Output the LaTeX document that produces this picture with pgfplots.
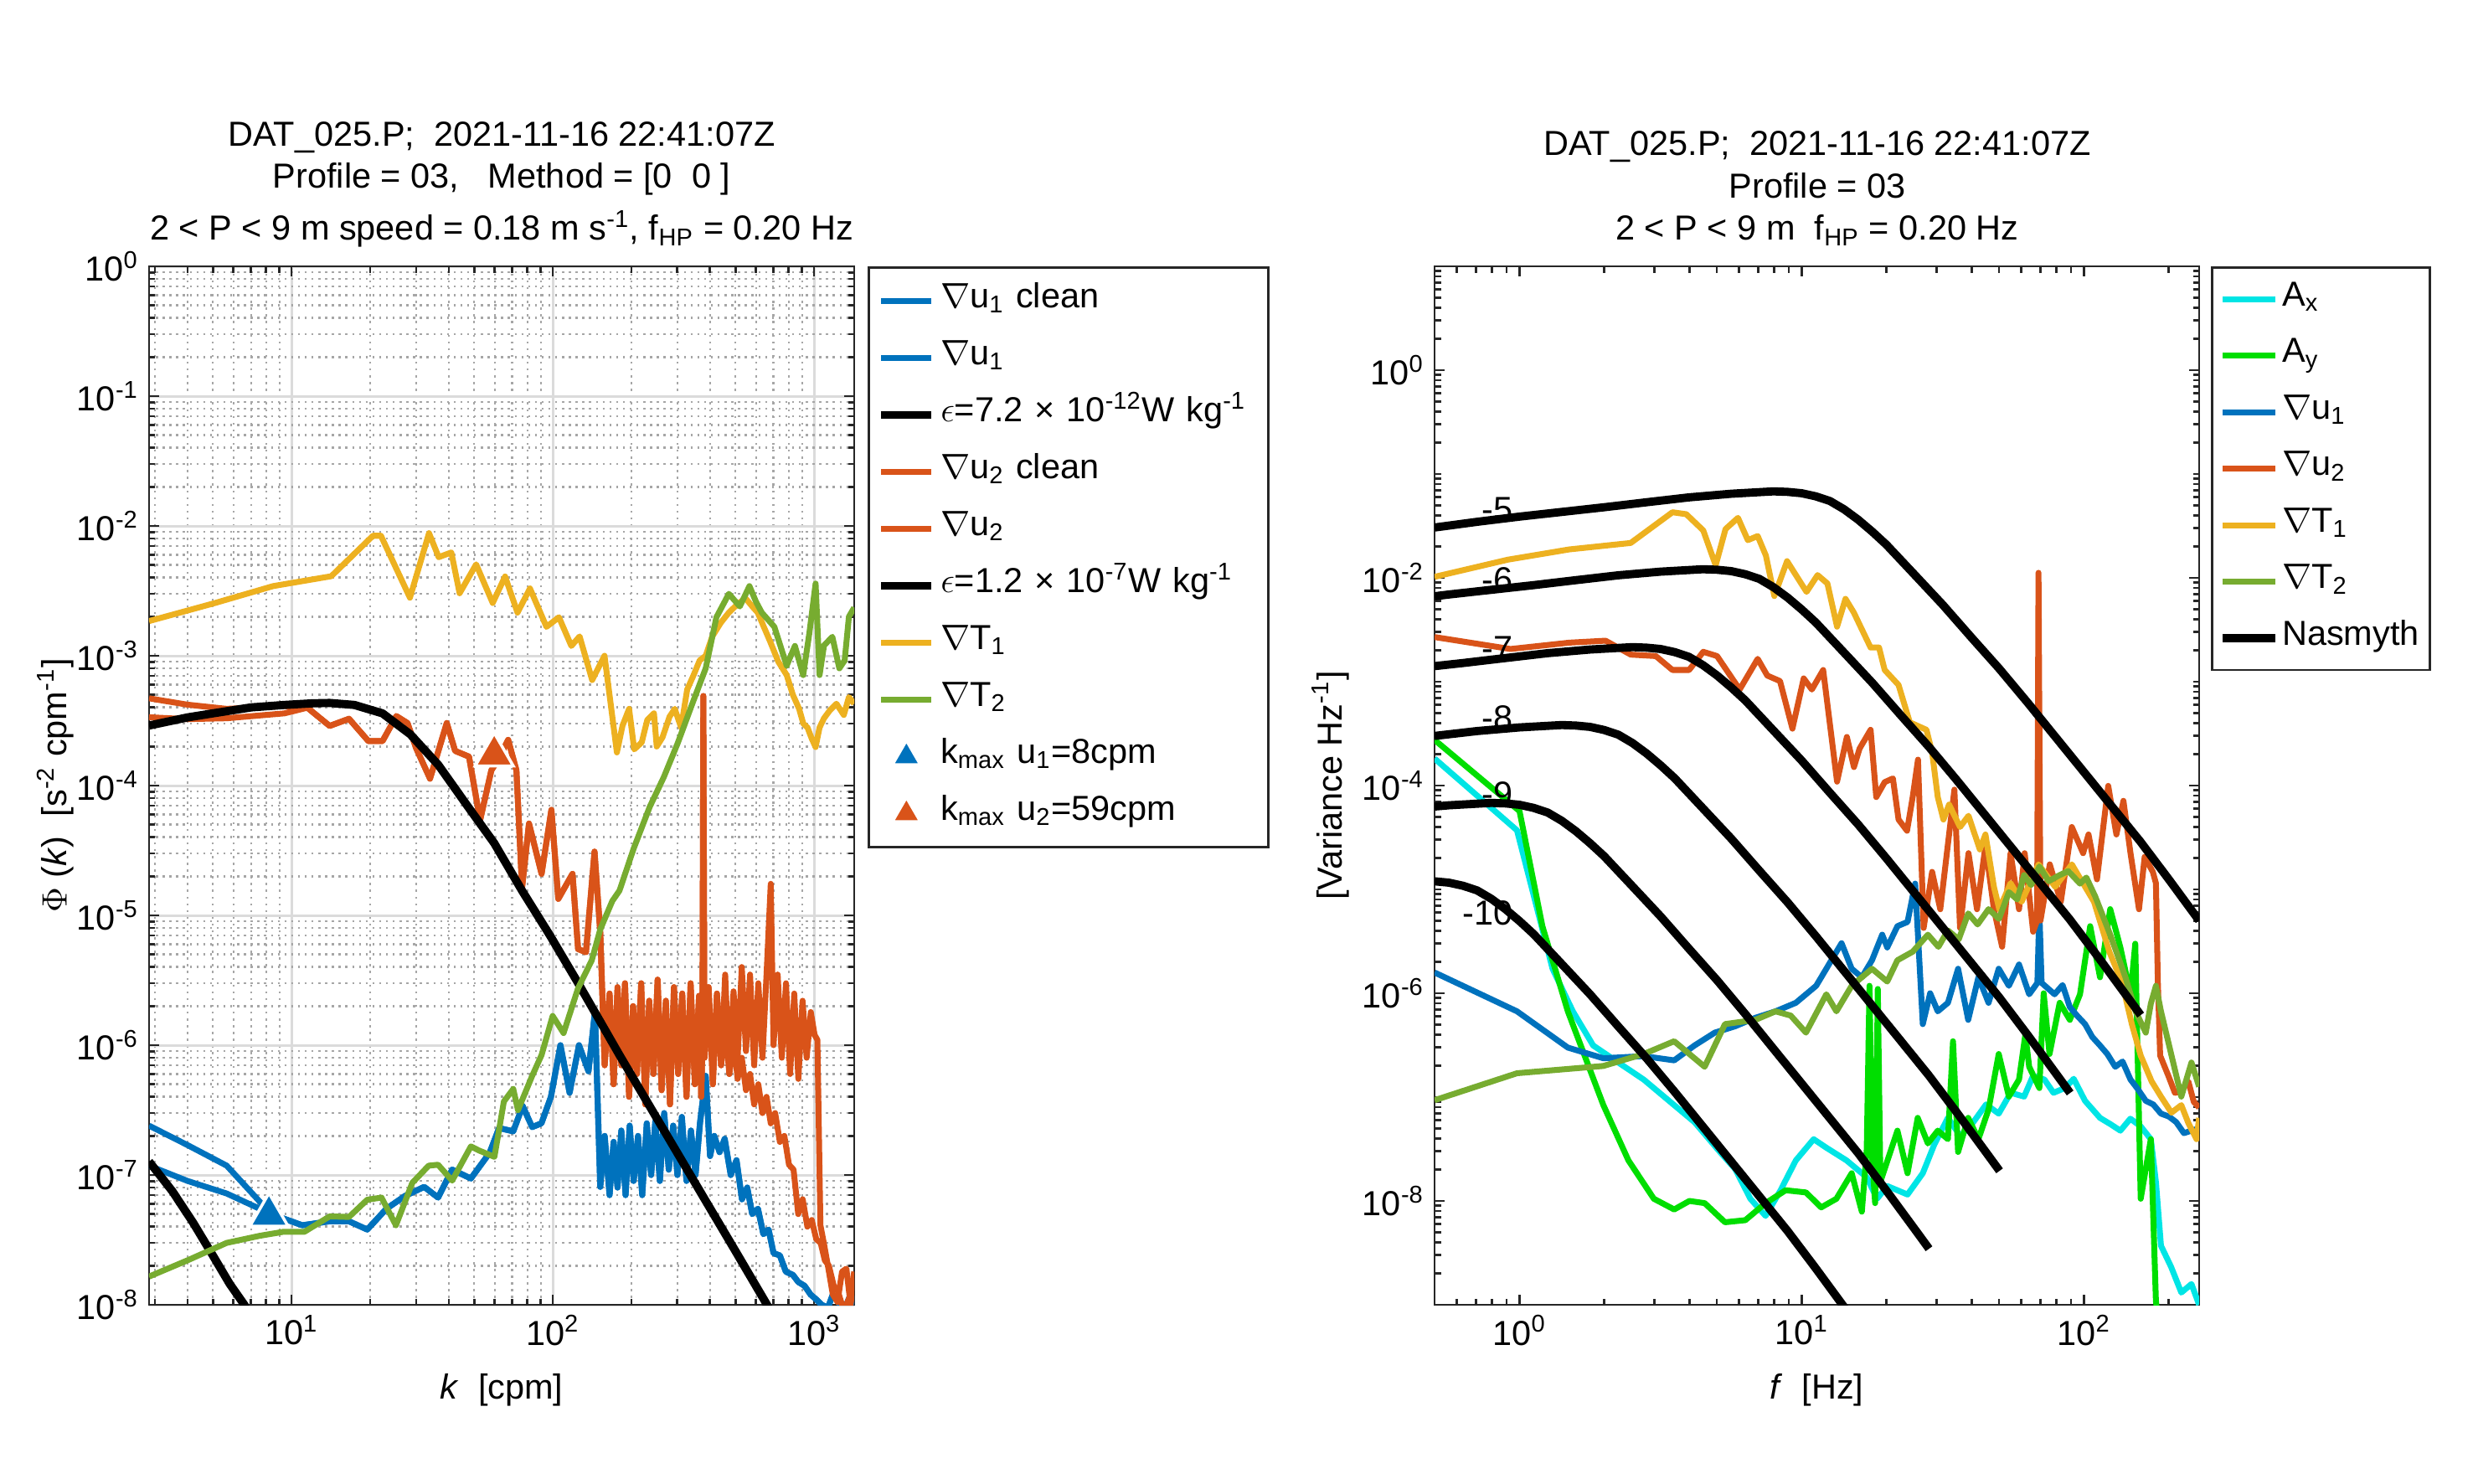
\documentclass[border=0pt]{standalone}
\usepackage{fontspec}
\setmainfont{Liberation Sans}
\usepackage{pgfplots}
\pgfplotsset{compat=1.18}
\definecolor{mblue}{rgb}{0,0.447,0.741}
\definecolor{morange}{rgb}{0.85,0.325,0.098}
\definecolor{myellow}{rgb}{0.929,0.694,0.125}
\definecolor{mgreen}{rgb}{0.466,0.674,0.188}
\definecolor{mcyan}{rgb}{0,0.9,0.9}
\definecolor{mlime}{rgb}{0,0.87,0}
\definecolor{axc}{rgb}{0.15,0.15,0.15}
\newcommand{\fs}{\fontsize{11.8}{14}\selectfont}
\newcommand{\sps}[1]{\textsuperscript{#1}}
\newcommand{\sbs}[1]{\textsubscript{#1}}
\tikzset{dline/.style={line width=2pt, line join=round}, nline/.style={line width=2.8pt, black, line join=round}}
\begin{document}
\begin{tikzpicture}
\path[use as bounding box] (0,0) rectangle (29.53,17.71);

% ---------------- LEFT ----------------
\begin{axis}[
  scale only axis, xmode=log, ymode=log,
  tick align=inside,
  major tick length=0.12cm, minor tick length=0.075cm,
  tick style={axc, line width=0.8pt},
  axis line style={axc, line width=0.8pt},
  tick label style={font=\fs},
  label style={font=\fs},
  legend cell align=left,
  at={(1.78cm,2.13cm)}, anchor=south west,
  width=8.42cm, height=12.40cm,
  xmin=2.85, xmax=1425, ymin=1e-8, ymax=1,
  xtick={10,100,1000},
  xticklabels={10\sps{1},10\sps{2},10\sps{3}},
  minor xtick={3,4,5,6,7,8,9,20,30,40,50,60,70,80,90,200,300,400,500,600,700,800,900},
  ytick={1e-8,1e-7,1e-6,1e-5,1e-4,1e-3,1e-2,1e-1,1},
  yticklabels={10\sps{-8},10\sps{-7},10\sps{-6},10\sps{-5},10\sps{-4},10\sps{-3},10\sps{-2},10\sps{-1},10\sps{0}},
  minor ytick={2e-8,3e-8,4e-8,5e-8,6e-8,7e-8,8e-8,9e-8,
    2e-7,3e-7,4e-7,5e-7,6e-7,7e-7,8e-7,9e-7,
    2e-6,3e-6,4e-6,5e-6,6e-6,7e-6,8e-6,9e-6,
    2e-5,3e-5,4e-5,5e-5,6e-5,7e-5,8e-5,9e-5,
    2e-4,3e-4,4e-4,5e-4,6e-4,7e-4,8e-4,9e-4,
    2e-3,3e-3,4e-3,5e-3,6e-3,7e-3,8e-3,9e-3,
    2e-2,3e-2,4e-2,5e-2,6e-2,7e-2,8e-2,9e-2,
    0.2,0.3,0.4,0.5,0.6,0.7,0.8,0.9},
  grid=both,
  major grid style={black!14, line width=0.85pt},
  minor grid style={black!35, line width=0.7pt, dash pattern=on 0.7pt off 1.6pt},
  xlabel={\textit{k}\ \ [cpm]},
  ylabel={$\Phi$ (\textit{k})\ \ [s\sps{-2} cpm\sps{-1}]},
  xlabel style={at={(axis description cs:0.5,0)}, anchor=base, yshift=-1.12cm},
  ylabel style={at={(axis description cs:-0.133,0.5)}, anchor=center},
  legend style={at={(axis description cs:1.019,1)}, anchor=north west,
    draw=axc, line width=0.8pt, fill=white,
    inner xsep=0.1cm, inner ysep=0.06cm, row sep=0pt, column sep=0.06cm,
    font=\fs,
    nodes={inner sep=0pt, text height=0.42cm, text depth=0.26cm, text width=3.81cm, align=left}},
  legend image code/.code={\path (0cm,0cm) (0.6cm,0cm); \draw[mark repeat=2,mark phase=2,#1] plot coordinates {(0cm,0cm) (0.3cm,0cm) (0.6cm,0cm)};},
]
% grad u1 clean
\addplot[dline, mblue] coordinates {
(2.85,1.18e-7) (4,9e-8) (5.65,7.2e-8) (8.36,5e-8)
(11,4.1e-8) (14,4.4e-8) (16.6,4.4e-8) (19.5,3.8e-8) (23.1,5.5e-8) (27.2,6.9e-8) (32.2,8.1e-8) (36.4,6.7e-8)
(41.2,1.1e-7) (48.6,9.4e-8) (57.3,1.48e-7) (62.3,2.3e-7) (70.6,2.17e-7) (76.7,3.4e-7) (83.4,2.34e-7)
(90.5,2.5e-7) (98.4,4e-7) (107,1e-6) (116,4.3e-7) (126,1e-6) (137,6.3e-7) (145,1.8e-6)
(152,8.1e-8) (158,2e-7) (165,7e-8) (171,1.8e-7) (177,8e-8) (183,2.2e-7) (190,7e-8) (197,2.4e-7)
(204,9e-8) (212,2e-7) (220,7e-8) (229,2.5e-7) (238,1e-7) (247,2.6e-7) (257,9e-8) (267,3e-7)
(278,1.1e-7) (289,2.4e-7) (300,1e-7) (312,2.8e-7) (325,9e-8) (338,2.2e-7) (352,1e-7) (366,2.5e-7)
(385,5.8e-7) (400,1.4e-7) (415,2e-7) (435,1.5e-7) (455,1.9e-7) (480,1e-7) (505,1.3e-7) (530,6.5e-8)
(555,8e-8) (580,5e-8) (610,5.5e-8) (640,3.5e-8) (670,3.8e-8) (700,2.5e-8) (740,2.4e-8) (780,1.8e-8)
(830,1.7e-8) (870,1.5e-8) (920,1.4e-8) (970,1.2e-8) (1020,1.1e-8) (1070,1e-8) (1130,9.5e-9)
(1180,1.2e-8) (1230,1.1e-8) (1280,9e-9) (1330,1e-8) (1380,1.2e-8) (1425,1e-8)
};
\addlegendentry{$\nabla$u\sbs{1} clean}
% grad u1
\addplot[dline, mblue] coordinates {
(2.85,2.4e-7) (4,1.7e-7) (5.65,1.18e-7) (8.36,5e-8)
(11,4.1e-8) (14,4.4e-8) (16.6,4.4e-8) (19.5,3.8e-8) (23.1,5.5e-8) (27.2,6.9e-8) (32.2,8.1e-8) (36.4,6.7e-8)
(41.2,1.1e-7) (48.6,9.4e-8) (57.3,1.48e-7) (62.3,2.3e-7) (70.6,2.17e-7) (76.7,3.4e-7) (83.4,2.34e-7)
(90.5,2.5e-7) (98.4,4e-7) (107,1e-6) (116,4.3e-7) (126,1e-6) (137,6.3e-7) (145,1.8e-6)
(152,8.1e-8) (158,2e-7) (165,7e-8) (171,1.8e-7) (177,8e-8) (183,2.2e-7) (190,7e-8) (197,2.4e-7)
(204,9e-8) (212,2e-7) (220,7e-8) (229,2.5e-7) (238,1e-7) (247,2.6e-7) (257,9e-8) (267,3e-7)
(278,1.1e-7) (289,2.4e-7) (300,1e-7) (312,2.8e-7) (325,9e-8) (338,2.2e-7) (352,1e-7) (366,2.5e-7)
(385,5.8e-7) (400,1.4e-7) (415,2e-7) (435,1.5e-7) (455,1.9e-7) (480,1e-7) (505,1.3e-7) (530,6.5e-8)
(555,8e-8) (580,5e-8) (610,5.5e-8) (640,3.5e-8) (670,3.8e-8) (700,2.5e-8) (740,2.4e-8) (780,1.8e-8)
(830,1.7e-8) (870,1.5e-8) (920,1.4e-8) (970,1.2e-8) (1020,1.1e-8) (1070,1e-8) (1130,9.5e-9)
(1180,1.2e-8) (1230,1.1e-8) (1280,9e-9) (1330,1e-8) (1380,1.2e-8) (1425,1e-8)
};
\addlegendentry{$\nabla$u\sbs{1}}
% Nasmyth 7.2e-12
\addplot[nline] coordinates {
(2.85,1.27e-7) (3.5,7.5e-8) (4.2,4.3e-8) (5,2.4e-8) (5.8,1.45e-8) (6.6,1e-8) (7,8e-9)
};
\addlegendentry{$\epsilon$=7.2 × 10\sps{-12}W kg\sps{-1}}
% grad u2 clean
\addplot[dline, morange] coordinates {
(2.85,3.36e-4) (4,3.25e-4) (5.65,3.3e-4) (9.4,3.6e-4) (11.5,3.98e-4) (14,2.88e-4) (16.6,3.27e-4)
(19.7,2.2e-4) (22.3,2.2e-4) (25.2,3.43e-4) (27.8,3.03e-4) (30,1.94e-4) (33.9,1.13e-4) (39.3,3.03e-4)
(42.3,1.85e-4) (47.8,1.67e-4) (52.7,5.4e-5) (58.2,1.31e-4) (62,1.6e-4) (67.5,2.25e-4) (72.6,1.31e-4)
(76.3,1.63e-5) (81.1,5.1e-5) (90.6,2.09e-5) (98.8,6.5e-5) (105,1.34e-5) (119,2.09e-5) (125,5.5e-6)
(134,5.2e-6) (144.5,3.1e-5) (152,7.4e-6) (158,7e-7)
(165,2.5e-6) (171,5e-7) (177,2.8e-6) (183,7e-7) (189,3e-6) (196,4e-7) (203,2e-6) (210,6e-7)
(218,3e-6) (226,3.5e-7) (234,2.2e-6) (243,6e-7) (252,3.2e-6) (261,4.5e-7) (271,2.2e-6) (281,3.5e-7)
(291,2.8e-6) (302,6e-7) (313,2.5e-6) (325,4e-7) (337,3e-6) (350,5e-7) (363,2.4e-6) (370,4e-7)
(374,1e-6) (377,4.9e-4) (381,8e-7) (395,2.8e-6) (410,5e-7) (425,2.5e-6) (441,7e-7)
(457,1.4e-6) (474,6e-7) (492,1.1e-6) (510,5.5e-7) (529,8e-7) (549,4.5e-7) (569,6e-7) (590,3.5e-7)
(612,5e-7) (635,3e-7) (658,4e-7) (683,2.5e-7) (710,3e-7) (740,1.8e-7) (770,2e-7) (802,1.2e-7)
(835,1.1e-7) (870,5e-8) (905,6.5e-8) (943,4e-8) (980,4.5e-8) (1020,3.2e-8) (1060,3e-8) (1100,2.2e-8)
(1140,2e-8) (1190,1.4e-8) (1230,1.3e-8) (1280,1e-8) (1330,1e-8) (1380,1.2e-8) (1425,1.8e-8)
};
\addlegendentry{$\nabla$u\sbs{2} clean}
% grad u2
\addplot[dline, morange] coordinates {
(2.85,4.7e-4) (4,4.2e-4) (5.65,3.9e-4) (9.4,4.1e-4) (11.5,3.98e-4) (14,2.88e-4) (16.6,3.27e-4)
(19.7,2.2e-4) (22.3,2.2e-4) (25.2,3.43e-4) (27.8,3.03e-4) (30,1.94e-4) (33.9,1.13e-4) (39.3,3.03e-4)
(42.3,1.85e-4) (47.8,1.67e-4) (52.7,5.4e-5) (58.2,1.31e-4) (62,1.6e-4) (67.5,2.25e-4) (72.6,1.31e-4)
(76.3,1.63e-5) (81.1,5.1e-5) (90.6,2.09e-5) (98.8,6.5e-5) (105,1.34e-5) (119,2.09e-5) (125,5.5e-6)
(134,5.2e-6) (144.5,3.1e-5) (152,7.4e-6) (158,7e-7)
(165,2.5e-6) (171,5e-7) (177,2.8e-6) (183,7e-7) (189,3e-6) (196,4e-7) (203,2e-6) (210,6e-7)
(218,3e-6) (226,3.5e-7) (234,2.2e-6) (243,6e-7) (252,3.2e-6) (261,4.5e-7) (271,2.2e-6) (281,3.5e-7)
(291,2.8e-6) (302,6e-7) (313,2.5e-6) (325,4e-7) (337,3e-6) (350,5e-7) (363,2.4e-6) (370,4e-7)
(374,1e-6) (377,4.9e-4) (381,8e-7) (395,2.8e-6) (410,5e-7) (425,2.5e-6) (441,7e-7)
(457,3.5e-6) (474,6e-7) (492,2.6e-6) (510,8e-7) (529,4e-6) (549,9e-7) (569,3.5e-6) (590,7e-7)
(612,3e-6) (635,8e-7) (658,3.5e-6) (683,1.75e-5) (700,1e-6) (726,3.5e-6) (753,8e-7) (781,3e-6)
(810,6e-7) (840,2.5e-6) (871,5.5e-7) (904,2.2e-6) (937,8e-7) (972,1.8e-6) (1005,1.2e-6) (1030,1.1e-6)
(1058,4.1e-8) (1090,3e-8) (1135,1.9e-8) (1180,1.2e-8) (1230,1.05e-8) (1280,1.8e-8) (1330,1.9e-8)
(1380,1e-8) (1425,1.6e-8)
};
\addlegendentry{$\nabla$u\sbs{2}}
% Nasmyth 1.2e-7
\addplot[nline] coordinates {
(2.85,2.9e-4) (4,3.35e-4) (5,3.6e-4) (7,4e-4) (9.4,4.18e-4) (12,4.3e-4) (14,4.33e-4) (17.4,4.18e-4)
(22.3,3.6e-4) (28.5,2.48e-4) (36.5,1.44e-4) (46.6,7.2e-5) (59.7,3.6e-5) (76.3,1.55e-5) (97.6,7.0e-6)
(124.8,3.03e-6) (180,8.4e-7) (260,2.4e-7) (380,6.6e-8) (500,2.6e-8) (661,1e-8) (700,8e-9)
};
\addlegendentry{$\epsilon$=1.2 × 10\sps{-7}W kg\sps{-1}}
% grad T1
\addplot[dline, myellow] coordinates {
(2.85,1.85e-3) (5.1,2.55e-3) (8.5,3.44e-3) (14.2,4.1e-3) (20.5,8.4e-3) (22,8.4e-3) (28.4,2.8e-3)
(33.6,8.8e-3) (36.6,5.75e-3) (40.9,6.25e-3) (44,3.03e-3) (50.9,5.06e-3) (58.9,2.55e-3) (65.7,4.08e-3)
(73.3,2.15e-3) (81.8,3.3e-3) (94.6,1.67e-3) (105.6,1.98e-3) (117.8,1.19e-3) (126.7,1.41e-3)
(141.5,6.5e-4) (157.8,1e-3) (176,1.8e-4) (185,2.9e-4) (196,3.9e-4) (205,1.9e-4) (219,2.15e-4)
(230,3.2e-4) (244,3.6e-4) (250,2.0e-4) (263,2.35e-4) (280,3.4e-4) (293,3.9e-4) (310,2.8e-4)
(327,5.5e-4) (345,7e-4) (365,9.2e-4) (385,1e-3) (408,1.41e-3) (440,1.8e-3) (472,2.15e-3) (510,2.5e-3)
(546,2.78e-3) (580,2.4e-3) (609,2.15e-3) (640,1.7e-3) (679,1.29e-3) (730,9e-4) (786,7.1e-4)
(830,5e-4) (877,3.9e-4) (910,3e-4) (944,2.8e-4) (980,2.3e-4) (1014,1.98e-4) (1050,2.8e-4)
(1092,3.3e-4) (1150,3.8e-4) (1218,4.27e-4) (1300,3.5e-4) (1360,4.8e-4) (1425,4.27e-4)
};
\addlegendentry{$\nabla$T\sbs{1}}
% grad T2
\addplot[dline, mgreen] coordinates {
(2.85,1.65e-8) (4.06,2.23e-8) (5.65,3.0e-8) (7.55,3.4e-8) (9.3,3.65e-8) (11.2,3.65e-8) (14.0,4.8e-8)
(16.6,4.75e-8) (19.5,6.45e-8) (22.1,6.7e-8) (25.1,4.1e-8) (29,8.7e-8) (33.5,1.18e-7) (36.4,1.2e-7)
(41.2,9.05e-8) (48.6,1.66e-7) (52,1.55e-7) (59.8,1.38e-7) (65,3.68e-7) (70.6,4.6e-7) (73.6,3.16e-7)
(83.4,5.8e-7) (90.6,8.4e-7) (99.9,1.68e-6) (110,1.24e-6) (125,2.75e-6) (141,4.5e-6) (152,7.8e-6)
(169,1.29e-5) (180,1.55e-5) (204,3.27e-5) (235,6.85e-5) (266,1.16e-4) (301,2.13e-4) (341,4.2e-4)
(385,8e-4) (423,1.98e-3) (472,3.0e-3) (520,2.4e-3) (566,3.44e-3) (600,2.6e-3) (631,2.15e-3)
(705,1.67e-3) (786,8.4e-4) (845,1.19e-3) (909,7.1e-4) (960,1.5e-3) (1014,3.6e-3) (1050,7.1e-4)
(1092,1.2e-3) (1175,1.4e-3) (1250,8e-4) (1310,9.2e-4) (1360,2e-3) (1425,2.35e-3)
};
\addlegendentry{$\nabla$T\sbs{2}}
% k max markers
\addplot[only marks, mark=triangle*, mark size=7.5pt, mark options={fill=mblue, draw=white, line width=1pt},
  legend image post style={mark size=5.5pt}]
  coordinates {(8.2,4.9e-8)};
\addlegendentry{k\sbs{max} u\sbs{1}=8cpm}
\addplot[only marks, mark=triangle*, mark size=7.5pt, mark options={fill=morange, draw=white, line width=1pt},
  legend image post style={mark size=5.5pt}]
  coordinates {(59.7,1.72e-4)};
\addlegendentry{k\sbs{max} u\sbs{2}=59cpm}
\end{axis}

% ---------------- RIGHT ----------------
\begin{axis}[
  scale only axis, xmode=log, ymode=log,
  tick align=inside,
  major tick length=0.12cm, minor tick length=0.075cm,
  tick style={axc, line width=0.8pt},
  axis line style={axc, line width=0.8pt},
  tick label style={font=\fs},
  label style={font=\fs},
  legend cell align=left,
  at={(17.13cm,2.13cm)}, anchor=south west,
  width=9.13cm, height=12.40cm,
  xmin=0.5, xmax=256, ymin=1e-9, ymax=10,
  xtick={1,10,100},
  xticklabels={10\sps{0},10\sps{1},10\sps{2}},
  minor xtick={0.5,0.6,0.7,0.8,0.9,2,3,4,5,6,7,8,9,20,30,40,50,60,70,80,90,200},
  ytick={1e-8,1e-6,1e-4,1e-2,1},
  yticklabels={10\sps{-8},10\sps{-6},10\sps{-4},10\sps{-2},10\sps{0}},
  minor ytick={2e-9,3e-9,4e-9,5e-9,6e-9,7e-9,8e-9,9e-9,
    2e-8,3e-8,4e-8,5e-8,6e-8,7e-8,8e-8,9e-8,1e-7,
    2e-7,3e-7,4e-7,5e-7,6e-7,7e-7,8e-7,9e-7,
    2e-6,3e-6,4e-6,5e-6,6e-6,7e-6,8e-6,9e-6,1e-5,
    2e-5,3e-5,4e-5,5e-5,6e-5,7e-5,8e-5,9e-5,
    2e-4,3e-4,4e-4,5e-4,6e-4,7e-4,8e-4,9e-4,1e-3,
    2e-3,3e-3,4e-3,5e-3,6e-3,7e-3,8e-3,9e-3,
    2e-2,3e-2,4e-2,5e-2,6e-2,7e-2,8e-2,9e-2,0.1,
    0.2,0.3,0.4,0.5,0.6,0.7,0.8,0.9,
    2,3,4,5,6,7,8,9},
  xlabel={\textit{f}\ \ [Hz]},
  ylabel={[Variance Hz\sps{-1}]},
  xlabel style={at={(axis description cs:0.5,0)}, anchor=base, yshift=-1.12cm},
  ylabel style={at={(axis description cs:-0.136,0.5)}, anchor=center},
  legend style={at={(axis description cs:1.0153,1)}, anchor=north west,
    draw=axc, line width=0.8pt, fill=white,
    inner xsep=0.08cm, inner ysep=0.04cm, row sep=0pt, column sep=0.03cm,
    font=\fs,
    nodes={inner sep=0pt, text height=0.42cm, text depth=0.255cm, text width=1.68cm, align=left}},
  legend image code/.code={\draw[#1] (0cm,0cm) -- (0.63cm,0cm);},
]
% Ax
\addplot[dline, mcyan] coordinates {
(0.5,1.820e-4) (0.9795,3.707e-5) (1.309,1.722e-6) (1.545,6.699e-7) (1.824,3.141e-7) (2.239,2.153e-7)
(2.754,1.476e-7) (3.388,9.204e-8) (4.169,5.741e-8) (5.129,2.965e-8) (5.808,2.032e-8) (6.577,1.050e-8)
(7.447,7.178e-9) (8.414,1.268e-8) (9.528,2.455e-8) (11.02,3.936e-8) (12.22,3.258e-8) (14.42,2.455e-8)
(17.02,1.683e-8) (18.49,1.050e-8) (20.09,1.393e-8) (23.71,1.153e-8) (26.85,1.849e-8) (29.5,3.5e-8)
(32.96,6.310e-8) (36.5,4.2e-8) (40.55,5.741e-8) (45,8.5e-8) (49.89,6.934e-8) (55,1.1e-7)
(61.38,1.012e-7) (66,1.6e-7) (72.44,1.476e-7) (78,1.1e-7) (85.51,1.222e-7) (92,1.5e-7) (100.9,9.204e-8)
(114.0,6.310e-8) (124,5.5e-8) (134.6,4.753e-8) (146,6.2e-8) (158.9,5.224e-8) (172.6,3.936e-8)
(180,1.5e-8) (187.5,3.707e-9) (203.7,2.312e-9) (221.3,1.312e-9) (240.4,1.585e-9) (255.9,1e-9)
};
\addlegendentry{A\sbs{x}}
% Ay
\addplot[dline, mlime] coordinates {
(0.5,2.754e-4) (1.0,5.675e-5) (1.205,4.426e-6) (1.483,6.699e-7) (1.982,8.375e-8) (2.432,2.455e-8)
(2.992,1.050e-8) (3.532,8.279e-9) (3.999,1e-8) (4.529,9.528e-9) (5.346,6.237e-9) (6.310,6.531e-9)
(7.447,9.528e-9) (8.770,1.268e-8) (10.35,1.208e-8) (11.72,8.670e-9) (13.27,1.050e-8) (15.03,1.849e-8)
(16.33,7.889e-9) (17.0,3.162e-8) (17.38,1.180e-6) (17.78,2.512e-8) (18.2,9.528e-9) (18.6,1.1e-6)
(19.0,1.531e-8) (21.83,4.753e-8) (23.71,1.849e-8) (25.76,6.310e-8) (27.99,3.581e-8) (30.34,4.753e-8)
(32.96,3.936e-8) (34.36,3.451e-7) (35.81,2.965e-8) (38.90,6.310e-8) (42.27,3.936e-8) (45.92,7.621e-8)
(49.89,2.600e-7) (54.20,1.012e-7) (58.88,1.476e-7) (62,4e-7) (63.97,1.959e-7) (69.50,1.222e-7)
(72,1e-6) (75.51,2.600e-7) (82.04,8.091e-7) (89.13,5.546e-7) (96.83,9.772e-7) (105.2,4.426e-6)
(114.0,1.426e-6) (123.9,6.457e-6) (134.6,2.761e-6) (146.2,9.772e-7) (152,3e-6) (158.9,1.050e-8)
(172.6,3.936e-8) (179.9,1.086e-9) (186.2,5.012e-10)
};
\addlegendentry{A\sbs{y}}
% grad u1
\addplot[dline, mblue] coordinates {
(0.5,1.585e-6) (0.9795,6.699e-7) (1.483,2.999e-7) (1.982,2.366e-7) (2.754,2.483e-7) (3.532,2.259e-7)
(4.169,3.141e-7) (4.920,4.178e-7) (5.808,4.808e-7) (6.855,5.808e-7) (8.072,6.699e-7) (9.528,8.091e-7)
(11.25,1.180e-6) (12.22,1.722e-6) (13.84,3.034e-6) (15.03,1.722e-6) (16.33,1.426e-6) (17.74,2.080e-6)
(19.28,3.664e-6) (20.09,2.761e-6) (21.83,4.426e-6) (23.71,4.864e-6) (25.23,1.138e-5) (26.85,5.047e-7)
(28.51,1e-6) (30.34,6.699e-7) (32.96,8.091e-7) (35.81,1.722e-6) (38.90,5.546e-7) (42.27,1.426e-6)
(45.92,8.091e-7) (49.89,1.722e-6) (54.20,1.180e-6) (58.88,1.892e-6) (63.97,9.772e-7) (68.39,1.259e-6)
(69.50,6.310e-6) (70.79,1.259e-6) (78.70,9.772e-7) (84,1.2e-6) (89.13,7.362e-7) (95,6e-7)
(100.9,5.047e-7) (107,3.8e-7) (114.0,3.141e-7) (121,2.6e-7) (129.1,1.959e-7) (137,2.2e-7)
(146.2,1.476e-7) (155,1.2e-7) (165.6,9.204e-8) (176,8.5e-8) (187.5,6.934e-8) (200,6.5e-8)
(212.3,5.741e-8) (226,4.5e-8) (240.4,4.753e-8) (255.9,5.012e-8)
};
\addlegendentry{$\nabla$u\sbs{1}}
% grad u2
\addplot[dline, morange] coordinates {
(0.5,2.692e-3) (0.929,2.065e-3) (1.500,2.377e-3) (2.018,2.483e-3) (2.477,1.824e-3) (3.041,1.766e-3)
(3.483,1.297e-3) (3.990,1.297e-3) (4.477,1.941e-3) (5.012,1.766e-3) (6.026,8.414e-4) (6.982,1.660e-3)
(7.551,1.146e-3) (8.375,1.014e-3) (9.268,3.532e-4) (10.16,1.076e-3) (10.86,8.414e-4) (11.91,1.297e-3)
(13.34,1.091e-4) (14.45,2.938e-4) (15.31,1.507e-4) (16.03,2.270e-4) (17.54,3.443e-4) (18.37,7.745e-5)
(19.68,1.079e-4) (21.04,1.172e-4) (22.03,4.710e-5) (23.61,3.673e-5) (24.72,7.745e-5) (25.82,1.778e-4)
(27.04,4.256e-6) (28.97,1.476e-5) (30.97,6.442e-6) (33.27,3.381e-5) (34.75,9.141e-5) (36.39,4.256e-6)
(38.99,2.234e-5) (41.78,6.442e-6) (44.77,2.636e-5) (47.97,6.442e-6) (51.29,2.805e-6) (54.95,2.234e-5)
(58.88,6.442e-6) (61.66,2.234e-5) (66.07,3.917e-6) (68.23,5.012e-6) (69.02,1.119e-2) (70.15,5.012e-6)
(75.68,1.742e-5) (82.79,7.603e-6) (90.57,3.990e-5) (99.31,2.234e-5) (103.8,3.381e-5) (111.2,1.250e-5)
(121.9,9.931e-5) (130.3,3.381e-5) (138.0,7.129e-5) (146.2,2.234e-5) (156.7,6.442e-6) (164.1,2.056e-5)
(175.4,1.476e-5) (179.9,1.148e-5) (182.8,1.259e-6) (186.2,2.512e-7) (199.5,1.585e-7) (210,1.1e-7)
(218.8,1.122e-7) (234.4,1.413e-7) (245,9e-8) (255.9,7.943e-8)
};
\addlegendentry{$\nabla$u\sbs{2}}
% grad T1
\addplot[dline, myellow] coordinates {
(0.5,1.023e-2) (0.908,1.496e-2) (1.500,1.879e-2) (2.477,2.168e-2) (3.483,4.285e-2) (3.899,4.102e-2)
(4.477,2.864e-2) (4.955,1.321e-2) (5.370,2.951e-2) (5.943,3.784e-2) (6.442,2.307e-2) (6.982,2.529e-2)
(7.464,1.641e-2) (7.998,6.683e-3) (8.872,1.449e-2) (10.40,7.328e-3) (11.38,1.064e-2) (12.33,8.831e-3)
(13.34,3.388e-3) (14.29,6.281e-3) (15.31,4.613e-3) (16.03,3.548e-3) (17.54,2.133e-3) (18.79,2.133e-3)
(19.68,1.297e-3) (22.03,9.311e-4) (24.15,4.064e-4) (27.67,3.443e-4) (28.97,2.094e-4) (30.34,7.745e-5)
(31.77,4.710e-5) (33.27,6.561e-5) (36.39,3.990e-5) (38.99,5.117e-5) (42.76,2.427e-5) (44.77,3.381e-5)
(47.97,1.059e-5) (50.12,6.442e-6) (54.95,1.148e-5) (60.12,7.603e-6) (69.02,1.742e-5) (79.07,1.059e-5)
(90.57,1.742e-5) (108.6,7.586e-6) (123.0,2.512e-6) (136.5,1.259e-6) (147.9,5.012e-7) (158.9,2.512e-7)
(173.8,1.413e-7) (187.5,1.012e-7) (204.2,7.079e-8) (221.3,8.375e-8) (234.4,5.623e-8) (250.6,3.936e-8)
(255.9,6.31e-8)
};
\addlegendentry{$\nabla$T\sbs{1}}
% grad T2
\addplot[dline, mgreen] coordinates {
(0.5,9.333e-8) (0.9795,1.698e-7) (1.982,1.995e-7) (2.754,2.600e-7) (3.532,3.451e-7) (4.529,1.959e-7)
(5.346,5.047e-7) (6.855,5.546e-7) (8.072,6.699e-7) (9.141,6.095e-7) (10.35,4.178e-7) (12.22,9.772e-7)
(13.27,6.699e-7) (15.03,1.180e-6) (17.74,1.722e-6) (20.09,1.297e-6) (21.83,2.080e-6) (24.72,2.512e-6)
(27.99,3.664e-6) (30.5,2.8e-6) (32.96,4.027e-6) (36,3.3e-6) (38.90,5.875e-6) (42,4.6e-6) (45.92,6.457e-6)
(50,5.2e-6) (54.20,9.419e-6) (58,8e-6) (61.38,1.374e-5) (65,1.1e-5) (69.50,1.663e-5) (75,1.2e-5)
(82.04,1.374e-5) (88,1.5e-5) (96.83,1.138e-5) (102,1.3e-5) (109.6,8.570e-6) (123.9,3.664e-6)
(140.3,1.426e-6) (152.4,6.699e-7) (165.6,4.178e-7) (172.6,7.943e-7) (179.9,1.180e-6) (187.5,6.699e-7)
(203.7,2.600e-7) (221.3,1.012e-7) (240.4,2.153e-7) (255.9,1.259e-7)
};
\addlegendentry{$\nabla$T\sbs{2}}
% Nasmyth -5
\addplot[nline] coordinates {
(0.5,3.055e-2) (0.708,3.467e-2) (1,3.89e-2) (1.413,4.315e-2) (1.995,4.786e-2) (2.818,5.346e-2)
(3.981,5.957e-2) (5.623,6.457e-2) (7.943,6.808e-2) (8.913,6.73e-2) (10,6.531e-2) (11.22,6.095e-2)
(12.59,5.495e-2) (14.13,4.571e-2) (15.85,3.631e-2) (17.78,2.786e-2) (19.95,2.089e-2) (25.12,1.072e-2)
(31.62,5.495e-3) (39.81,2.692e-3) (50.12,1.334e-3) (63.10,6.31e-4) (79.43,2.917e-4) (100,1.349e-4)
(125.9,6.237e-5) (158.5,2.884e-5) (199.5,1.259e-5) (255.9,5.012e-6)
};
\addlegendentry{Nasmyth}
% Nasmyth -6
\addplot[nline, forget plot] coordinates {
(0.5,6.653e-3) (0.5623,6.918e-3) (0.7943,7.674e-3) (1.122,8.511e-3) (1.585,9.506e-3) (2.239,1.059e-2)
(3.162,1.148e-2) (4.467,1.211e-2) (5.012,1.197e-2) (5.623,1.161e-2) (6.310,1.084e-2) (7.079,9.772e-3)
(7.943,8.128e-3) (8.913,6.457e-3) (10,4.955e-3) (11.22,3.715e-3) (14.13,1.905e-3) (17.78,9.772e-4)
(22.39,4.786e-4) (28.18,2.371e-4) (35.48,1.122e-4) (44.67,5.188e-5) (56.23,2.399e-5) (70.79,1.109e-5)
(89.13,5.129e-6) (112.2,2.239e-6) (143.9,8.913e-7) (158.9,6.166e-7)
};
% Nasmyth -7
\addplot[nline, forget plot] coordinates {
(0.5,1.413e-3) (0.631,1.514e-3) (0.891,1.690e-3) (1.259,1.884e-3) (1.778,2.042e-3) (2.512,2.153e-3)
(2.818,2.128e-3) (3.162,2.065e-3) (3.548,1.928e-3) (3.981,1.738e-3) (4.467,1.445e-3) (5.012,1.148e-3)
(5.623,8.81e-4) (6.310,6.607e-4) (7.943,3.388e-4) (10,1.738e-4) (12.59,8.511e-5) (15.85,4.217e-5)
(19.95,1.995e-5) (25.12,9.226e-6) (31.62,4.266e-6) (39.81,1.972e-6) (50.12,9.12e-7) (63.10,3.981e-7)
(80.91,1.585e-7) (89.33,1.096e-7)
};
% Nasmyth -8
\addplot[nline, forget plot] coordinates {
(0.5,3.006e-4) (0.708,3.35e-4) (1,3.631e-4) (1.413,3.828e-4) (1.585,3.784e-4) (1.778,3.673e-4)
(1.995,3.428e-4) (2.239,3.09e-4) (2.512,2.57e-4) (2.818,2.042e-4) (3.162,1.567e-4) (3.548,1.175e-4)
(4.467,6.026e-5) (5.623,3.09e-5) (7.079,1.514e-5) (8.913,7.499e-6) (11.22,3.548e-6) (14.13,1.641e-6)
(17.78,7.586e-7) (22.39,3.508e-7) (28.18,1.622e-7) (35.48,7.079e-8) (45.50,2.818e-8) (50.23,1.950e-8)
};
% Nasmyth -9
\addplot[nline, forget plot] coordinates {
(0.5,6.281e-5) (0.5623,6.457e-5) (0.7943,6.808e-5) (0.8913,6.73e-5) (1,6.531e-5) (1.122,6.095e-5)
(1.259,5.495e-5) (1.413,4.571e-5) (1.585,3.631e-5) (1.778,2.786e-5) (1.995,2.089e-5) (2.512,1.072e-5)
(3.162,5.495e-6) (3.981,2.692e-6) (5.012,1.334e-6) (6.310,6.31e-7) (7.943,2.917e-7) (10,1.349e-7)
(12.59,6.237e-8) (15.85,2.884e-8) (19.95,1.259e-8) (25.59,5.012e-9) (28.25,3.467e-9)
};
% Nasmyth -10
\addplot[nline, forget plot] coordinates {
(0.5,1.197e-5) (0.5623,1.161e-5) (0.631,1.084e-5) (0.7079,9.772e-6) (0.7943,8.128e-6) (0.8913,6.457e-6)
(1,4.955e-6) (1.122,3.715e-6) (1.413,1.905e-6) (1.778,9.772e-7) (2.239,4.786e-7) (2.818,2.371e-7)
(3.548,1.122e-7) (4.467,5.188e-8) (5.623,2.399e-8) (7.079,1.109e-8) (8.913,5.129e-9) (11.22,2.239e-9)
(14.39,8.913e-10) (15.89,6.166e-10)
};
\node[anchor=east, font=\fs] at (axis cs:1.03,4.56e-2) {-5};
\node[anchor=east, font=\fs] at (axis cs:1.03,9.68e-3) {-6};
\node[anchor=east, font=\fs] at (axis cs:1.03,2.10e-3) {-7};
\node[anchor=east, font=\fs] at (axis cs:1.03,4.48e-4) {-8};
\node[anchor=east, font=\fs] at (axis cs:1.03,8.26e-5) {-9};
\node[anchor=east, font=\fs] at (axis cs:1.03,5.87e-6) {-10};
\end{axis}

% ---------------- TITLES ----------------
\node[anchor=base, font=\fs] at (5.99,15.96) {DAT\_025.P;\ \ 2021-11-16 22:41:07Z};
\node[anchor=base, font=\fs] at (5.99,15.46) {Profile = 03,\ \ \ Method = [0\ \ 0 ]};
\node[anchor=base, font=\fs] at (5.99,14.84) {2 < P < 9 m speed = 0.18 m s\sps{-1}, f\sbs{HP} = 0.20 Hz};
\node[anchor=base, font=\fs] at (21.70,15.85) {DAT\_025.P;\ \ 2021-11-16 22:41:07Z};
\node[anchor=base, font=\fs] at (21.70,15.34) {Profile = 03};
\node[anchor=base, font=\fs] at (21.70,14.84) {2 < P < 9 m\ \ f\sbs{HP} = 0.20 Hz};
\end{tikzpicture}
\end{document}
